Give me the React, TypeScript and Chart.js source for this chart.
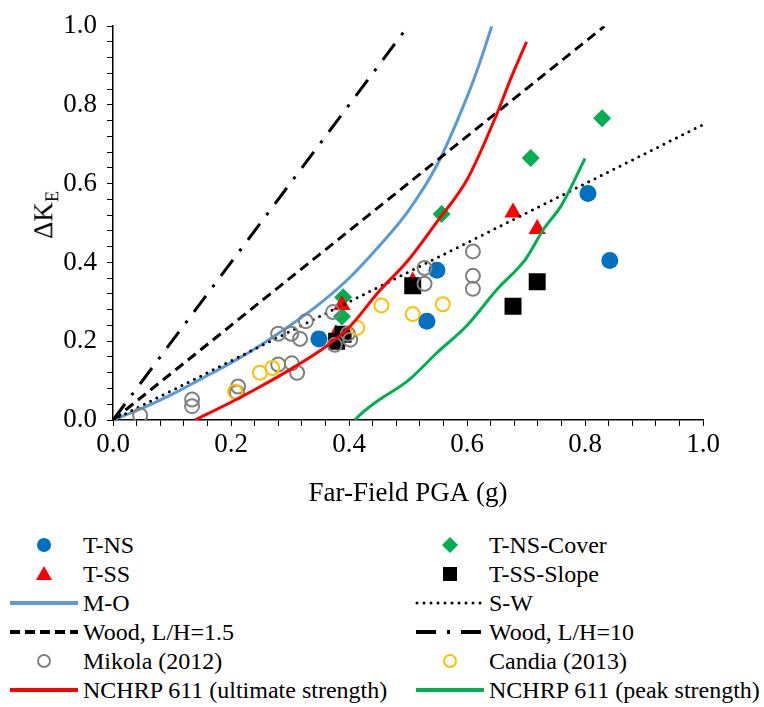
import React, { useEffect, useRef } from 'react';
import { Chart, registerables } from 'chart.js';
Chart.register(...registerables);

// ---- data ----
const tnsX = [0.349, 0.549, 0.532, 0.805, 0.842];
const tnsY = [0.206, 0.38, 0.251, 0.575, 0.405];

const coverX = [0.388, 0.39, 0.557, 0.708, 0.829];
const coverY = [0.263, 0.312, 0.523, 0.665, 0.766];

const tssX = [0.378, 0.388, 0.508, 0.678, 0.719];
const tssY = [0.218, 0.292, 0.352, 0.527, 0.485];

const slopeX = [0.379, 0.39, 0.508, 0.678, 0.719];
const slopeY = [0.2, 0.218, 0.341, 0.289, 0.351];

const moX = [0, 0.05, 0.1, 0.15, 0.2, 0.25, 0.3, 0.35, 0.4, 0.45, 0.5, 0.55, 0.6, 0.62, 0.642];
const moY = [0, 0.03, 0.065, 0.105, 0.145, 0.19, 0.24, 0.295, 0.36, 0.44, 0.53, 0.65, 0.82, 0.9, 1.0];

const swX = [0, 1.0];
const swY = [0, 0.75];

const wood15X = [0, 0.833];
const wood15Y = [0, 1.0];

const wood10X = [0, 0.5];
const wood10Y = [0, 1.0];

const mikolaX = [0.046, 0.134, 0.134, 0.212, 0.21, 0.28, 0.303, 0.312, 0.28, 0.302, 0.317, 0.327, 0.373, 0.376, 0.402, 0.398, 0.528, 0.528, 0.61, 0.61, 0.61];
const mikolaY = [0.012, 0.052, 0.035, 0.085, 0.07, 0.141, 0.144, 0.12, 0.219, 0.219, 0.206, 0.251, 0.274, 0.191, 0.204, 0.219, 0.386, 0.346, 0.428, 0.366, 0.333];

const candiaX = [0.207, 0.249, 0.27, 0.414, 0.455, 0.508, 0.559];
const candiaY = [0.072, 0.12, 0.132, 0.234, 0.291, 0.269, 0.294];

const ultX = [0.139, 0.2, 0.25, 0.3, 0.35, 0.4, 0.45, 0.5, 0.55, 0.6, 0.65, 0.675, 0.701];
const ultY = [0, 0.045, 0.085, 0.128, 0.175, 0.235, 0.325, 0.405, 0.505, 0.61, 0.775, 0.87, 0.96];

const peakX = [0.41, 0.42, 0.45, 0.5, 0.55, 0.6, 0.65, 0.7, 0.73, 0.76, 0.8];
const peakY = [0, 0.015, 0.05, 0.1, 0.172, 0.24, 0.33, 0.41, 0.485, 0.545, 0.664];

const tickLabels = ['0.0', '0.2', '0.4', '0.6', '0.8', '1.0'];

const FONT = "'Liberation Serif', 'Times New Roman', serif";

const pts = (xs: number[], ys: number[]) => xs.map((x, i) => ({ x, y: ys[i] }));

const tickCb = (v: any) => {
  const n = Math.round(Number(v) * 100);
  return n % 20 === 0 ? tickLabels[n / 20] : '';
};

function LegendSample({ kind }: { kind: string }) {
  const w = 72, h = 24, cy = 12, cx = 36;
  let el: any = null;
  switch (kind) {
    case 'circle': el = <circle cx={cx} cy={cy} r={7} fill="#0070C0" />; break;
    case 'triangle': el = <polygon points={`${cx},${cy - 8} ${cx + 8},${cy + 6} ${cx - 8},${cy + 6}`} fill="#FF0000" />; break;
    case 'diamond': el = <polygon points={`${cx},${cy - 8} ${cx + 8},${cy} ${cx},${cy + 8} ${cx - 8},${cy}`} fill="#00B050" />; break;
    case 'square': el = <rect x={cx - 7} y={cy - 7} width={14} height={14} fill="#000" />; break;
    case 'mo': el = <line x1={2} y1={cy} x2={70} y2={cy} stroke="#5B9BD5" strokeWidth={4} />; break;
    case 'ult': el = <line x1={2} y1={cy} x2={70} y2={cy} stroke="#FF0000" strokeWidth={4} />; break;
    case 'peak': el = <line x1={2} y1={cy} x2={70} y2={cy} stroke="#00B050" strokeWidth={4} />; break;
    case 'dash': el = <line x1={2} y1={cy} x2={70} y2={cy} stroke="#000" strokeWidth={4} strokeDasharray="10 5" />; break;
    case 'dot': el = <line x1={3} y1={cy} x2={70} y2={cy} stroke="#000" strokeWidth={3} strokeLinecap="round" strokeDasharray="0 7" />; break;
    case 'dashdot': el = <line x1={2} y1={cy} x2={70} y2={cy} stroke="#000" strokeWidth={4} strokeDasharray="20 11 3 11" />; break;
    case 'hgrey': el = <circle cx={cx} cy={cy} r={6} fill="none" stroke="#808080" strokeWidth={2} />; break;
    case 'horange': el = <circle cx={cx} cy={cy} r={6} fill="none" stroke="#FFC000" strokeWidth={2} />; break;
  }
  return <svg width={w} height={h} style={{ display: 'block' }}>{el}</svg>;
}

const legendCol1 = [
  ['circle', 'T-NS'], ['triangle', 'T-SS'], ['mo', 'M-O'], ['dash', 'Wood, L/H=1.5'], ['hgrey', 'Mikola (2012)'], ['ult', 'NCHRP 611 (ultimate strength)'],
];
const legendCol2 = [
  ['diamond', 'T-NS-Cover'], ['square', 'T-SS-Slope'], ['dot', 'S-W'], ['dashdot', 'Wood, L/H=10'], ['horange', 'Candia (2013)'], ['peak', 'NCHRP 611 (peak strength)'],
];

export default function App() {
  const ref = useRef<HTMLCanvasElement>(null);
  useEffect(() => {
    if (!ref.current) return;
    const marker = (i: number, label: string, data: any[], style: any, color: string, radius: number, opts: any = {}) => ({
      label, data, showLine: false, order: 100 - i,
      pointStyle: style, pointRadius: radius, pointHoverRadius: radius,
      pointBackgroundColor: color, pointBorderColor: color, pointBorderWidth: 0,
      ...opts,
    });
    const line = (i: number, label: string, data: any[], color: string, dash: number[], opts: any = {}) => ({
      label, data, showLine: true, order: 100 - i, pointRadius: 0, pointHoverRadius: 0,
      borderColor: color, borderWidth: 3, borderDash: dash, cubicInterpolationMode: 'monotone', fill: false,
      ...opts,
    });
    const chart = new Chart(ref.current, {
      type: 'scatter',
      data: {
        datasets: [
          marker(0, 'T-NS', pts(tnsX, tnsY), 'circle', '#0070C0', 8.5),
          marker(1, 'T-NS-Cover', pts(coverX, coverY), 'rectRot', '#00B050', 9),
          marker(2, 'T-SS', pts(tssX, tssY), 'triangle', '#FF0000', 10),
          marker(3, 'T-SS-Slope', pts(slopeX, slopeY), 'rect', '#000000', 12),
          line(4, 'M-O', pts(moX, moY), '#5B9BD5', []),
          line(5, 'S-W', pts(swX, swY), '#000000', [0, 7], { borderCapStyle: 'round' }),
          line(6, 'Wood, L/H=1.5', pts(wood15X, wood15Y), '#000000', [10, 6]),
          line(7, 'Wood, L/H=10', pts(wood10X, wood10Y), '#000000', [20, 11, 3, 11]),
          marker(8, 'Mikola (2012)', pts(mikolaX, mikolaY), 'circle', 'rgba(0,0,0,0)', 7, { pointBorderColor: '#808080', pointBorderWidth: 2 }),
          marker(9, 'Candia (2013)', pts(candiaX, candiaY), 'circle', 'rgba(0,0,0,0)', 7, { pointBorderColor: '#FFC000', pointBorderWidth: 2 }),
          line(10, 'NCHRP 611 (ultimate strength)', pts(ultX, ultY), '#FF0000', []),
          line(11, 'NCHRP 611 (peak strength)', pts(peakX, peakY), '#00B050', []),
        ] as any,
      },
      options: {
        responsive: false,
        devicePixelRatio: 1,
        animation: false,
        layout: { padding: { top: 18, right: 61, left: 0, bottom: 0 } },
        plugins: { legend: { display: false }, tooltip: { enabled: false } },
        scales: {
          x: {
            type: 'linear', min: 0, max: 1,
            ticks: { stepSize: 0.04, maxTicksLimit: 40, autoSkip: false, maxRotation: 0, callback: tickCb, color: '#000', font: { family: FONT, size: 27 }, padding: 3 },
            grid: { drawOnChartArea: false, drawTicks: true, tickLength: 6, color: '#000', lineWidth: 1 },
            border: { display: true, color: '#000', width: 1.5 },
            title: { display: true, text: 'Far-Field PGA (g)', color: '#000', font: { family: FONT, size: 27 }, padding: { top: 0, bottom: 10 } },
            afterFit: (s: any) => { s.height = 100; },
          },
          y: {
            type: 'linear', min: 0, max: 1,
            ticks: { stepSize: 0.04, maxTicksLimit: 40, autoSkip: false, callback: tickCb, color: '#000', font: { family: FONT, size: 27 }, padding: 10 },
            grid: { drawOnChartArea: false, drawTicks: true, tickLength: 6, color: '#000', lineWidth: 1 },
            border: { display: true, color: '#000', width: 1.5 },
            afterFit: (s: any) => { s.width = 113; },
          },
        },
      } as any,
    });
    return () => chart.destroy();
  }, []);

  const rowY = (i: number) => 545 + i * 29;
  return (
    <div style={{ position: 'absolute', left: 0, top: 0, width: 764, height: 707, background: '#fff', fontFamily: FONT, color: '#000' }}>
      <canvas ref={ref} width={764} height={520} style={{ position: 'absolute', left: 0, top: 0, width: 764, height: 520 }} />
      <div style={{ position: 'absolute', left: 46, top: 215, transform: 'translate(-50%, -50%) rotate(-90deg)', fontSize: 27, whiteSpace: 'nowrap', lineHeight: 1 }}>
        ΔK<sub style={{ fontSize: 18, verticalAlign: 'sub' }}>E</sub>
      </div>
      {legendCol1.map(([k, t], i) => (
        <div key={'a' + i} style={{ position: 'absolute', left: 8, top: rowY(i) - 12, height: 24, display: 'flex', alignItems: 'center' }}>
          <LegendSample kind={k} />
          <span style={{ fontSize: 24, marginLeft: 3, whiteSpace: 'nowrap', lineHeight: '24px' }}>{t}</span>
        </div>
      ))}
      {legendCol2.map(([k, t], i) => (
        <div key={'b' + i} style={{ position: 'absolute', left: 414, top: rowY(i) - 12, height: 24, display: 'flex', alignItems: 'center' }}>
          <LegendSample kind={k} />
          <span style={{ fontSize: 24, marginLeft: 3, whiteSpace: 'nowrap', lineHeight: '24px' }}>{t}</span>
        </div>
      ))}
    </div>
  );
}
